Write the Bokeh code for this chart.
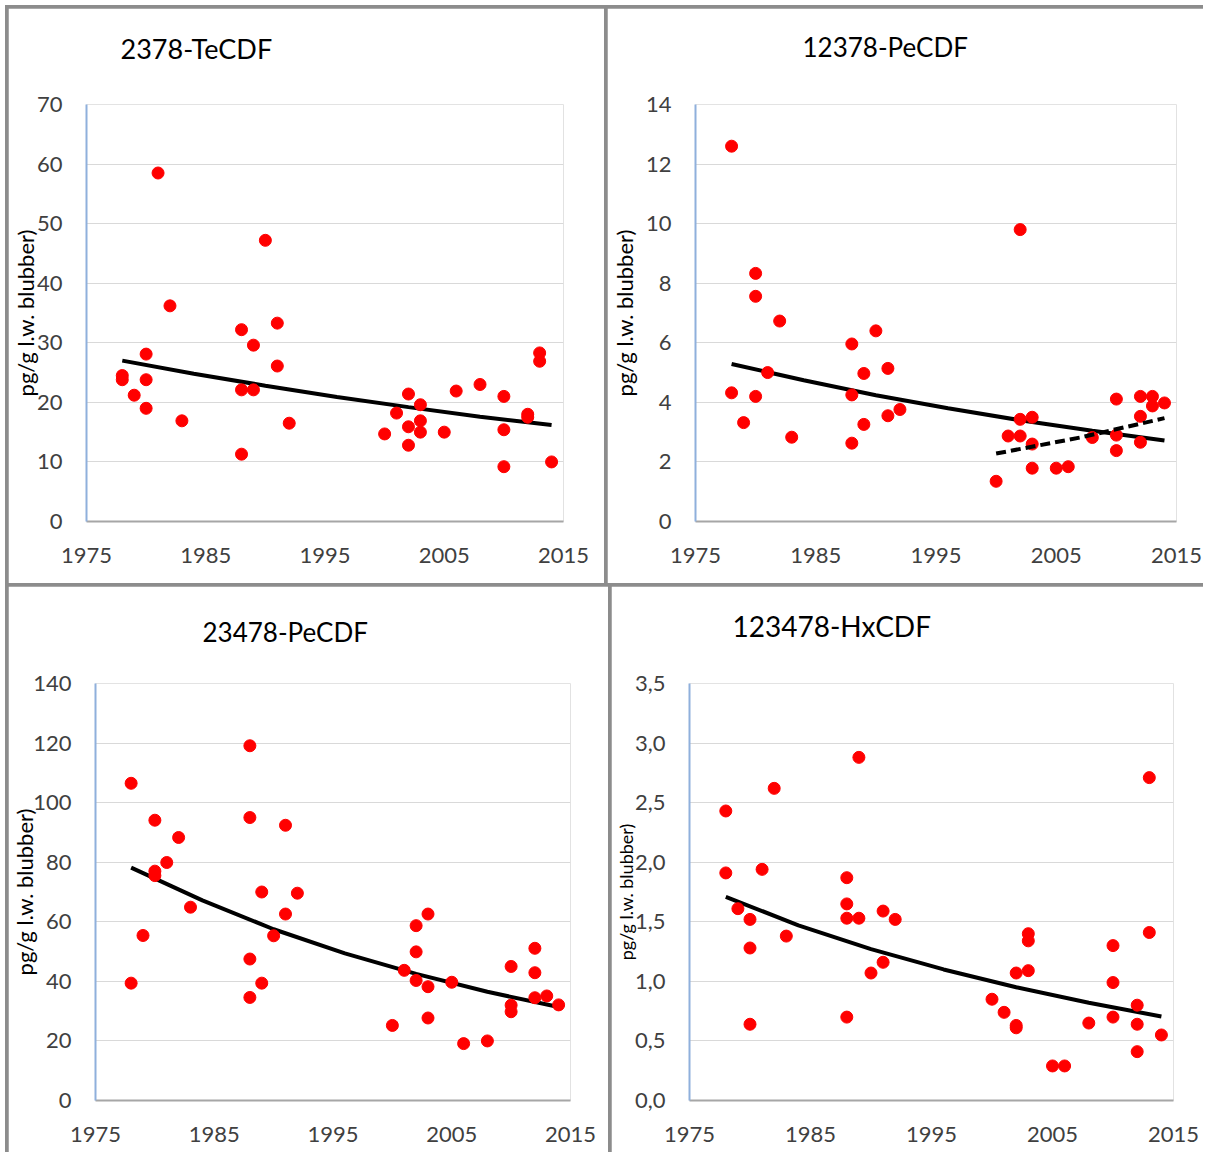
from bokeh.plotting import figure
from bokeh.models import Range1d, FixedTicker, CustomJSTickFormatter, Title
from bokeh.layouts import column, row
from bokeh.embed import file_html
from bokeh.resources import INLINE

# ---------------- data ----------------
x_ticks = [1975, 1985, 1995, 2005, 2015]

titles = ["2378-TeCDF", "12378-PeCDF", "23478-PeCDF", "123478-HxCDF"]
y_label = "pg/g l.w. blubber)"

years1 = [1978, 1978, 1979, 1980, 1980, 1980, 1981, 1982, 1983, 1988, 1988, 1989, 1988, 1989,
          1990, 1991, 1991, 1992, 2000, 2001, 2002, 2002, 2002, 2003, 2003, 2003, 2005, 2006,
          2008, 2010, 2010, 2010, 2012, 2012, 2013, 2013, 2014]
vals1 = [24.5, 23.8, 21.2, 28.1, 23.8, 19.0, 58.5, 36.2, 16.9, 32.2, 22.1, 22.1, 11.3, 29.6,
         47.2, 33.3, 26.1, 16.5, 14.7, 18.2, 21.4, 15.9, 12.8, 19.6, 16.9, 15.0, 15.0, 21.9,
         23.0, 21.0, 15.4, 9.2, 18.0, 17.5, 28.3, 26.9, 10.0]
y_ticks1 = [0, 10, 20, 30, 40, 50, 60, 70]

years2 = [1978, 1978, 1979, 1980, 1980, 1980, 1981, 1982, 1983, 1988, 1988, 1988, 1989, 1989,
          1990, 1991, 1991, 1992, 2000, 2001, 2002, 2002, 2002, 2003, 2003, 2003, 2005, 2006,
          2008, 2010, 2010, 2010, 2012, 2012, 2012, 2013, 2013, 2014]
vals2 = [12.6, 4.32, 3.32, 8.33, 7.56, 4.2, 5.0, 6.73, 2.83, 5.96, 4.25, 2.63, 4.97, 3.26,
         6.4, 5.14, 3.55, 3.76, 1.35, 2.87, 9.8, 3.43, 2.87, 3.5, 2.6, 1.79, 1.79, 1.84,
         2.82, 4.11, 2.9, 2.38, 4.2, 3.53, 2.66, 4.2, 3.88, 3.98]
y_ticks2 = [0, 2, 4, 6, 8, 10, 12, 14]

years3 = [1978, 1978, 1979, 1980, 1980, 1980, 1981, 1982, 1983, 1988, 1988, 1988, 1988, 1989,
          1989, 1990, 1991, 1991, 1992, 2000, 2001, 2002, 2002, 2002, 2003, 2003, 2003, 2005,
          2006, 2008, 2010, 2010, 2010, 2012, 2012, 2012, 2013, 2014]
vals3 = [106.5, 39.4, 55.4, 94.1, 77.0, 75.5, 79.9, 88.3, 64.9, 119.1, 95.0, 47.5, 34.6, 70.0,
         39.4, 55.3, 92.4, 62.6, 69.6, 25.2, 43.7, 58.7, 49.9, 40.3, 62.6, 38.2, 27.7, 39.7,
         19.1, 20.0, 45.0, 32.0, 29.8, 51.1, 42.9, 34.5, 35.1, 32.1]
y_ticks3 = [0, 20, 40, 60, 80, 100, 120, 140]

years4 = [1978, 1978, 1979, 1980, 1980, 1980, 1981, 1982, 1983, 1988, 1988, 1988, 1988, 1989,
          1989, 1990, 1991, 1991, 1992, 2000, 2001, 2002, 2002, 2002, 2003, 2003, 2003, 2005,
          2006, 2008, 2010, 2010, 2010, 2012, 2012, 2012, 2013, 2013, 2014]
vals4 = [2.43, 1.91, 1.61, 1.52, 1.28, 0.64, 1.94, 2.62, 1.38, 1.87, 1.65, 1.53, 0.70, 2.88,
         1.53, 1.07, 1.59, 1.16, 1.52, 0.85, 0.74, 1.07, 0.63, 0.61, 1.40, 1.34, 1.09, 0.29,
         0.29, 0.65, 1.30, 0.99, 0.70, 0.80, 0.64, 0.41, 2.71, 1.41, 0.55]
y_ticks4 = [0.0, 0.5, 1.0, 1.5, 2.0, 2.5, 3.0, 3.5]

# trend curves
trend_years = [1978, 1984, 1990, 1996, 2002, 2008, 2014]
trend1 = [27.0, 24.8, 22.8, 20.9, 19.2, 17.6, 16.2]
trend2 = [5.29, 4.74, 4.24, 3.80, 3.40, 3.05, 2.72]
trend3 = [78.2, 67.2, 57.5, 49.4, 42.5, 36.5, 31.4]
trend4 = [1.71, 1.47, 1.27, 1.10, 0.95, 0.82, 0.705]
dash_years2 = [2000, 2007, 2014]
dash_trend2 = [2.28, 2.82, 3.47]

FONT = "Lato"


def make_panel(title, xs, ys, tys, yticks, w, h, mbl, mbr, mbt, mbb,
               title_off, title_gap, title_size, lab_standoff, lab_size, x_standoff,
               comma=False):
    p = figure(width=w, height=h, x_range=Range1d(1975, 2015),
               y_range=Range1d(yticks[0], yticks[-1]),
               output_backend="svg", toolbar_location=None,
               min_border_left=mbl, min_border_right=mbr,
               min_border_top=mbt, min_border_bottom=mbb)
    p.outline_line_color = None
    p.background_fill_color = "white"
    p.border_fill_color = "white"
    p.xgrid.visible = False
    p.ygrid.grid_line_color = "#d9d9d9"
    p.ygrid.grid_line_width = 1

    # invisible spacer between the title and the frame
    p.add_layout(Title(text=" ", text_font_size="1px", standoff=title_gap), "above")
    p.title.text = title
    p.title.text_font = FONT
    p.title.text_font_size = title_size
    p.title.text_font_style = "normal"
    p.title.text_color = "black"
    p.title.align = "left"
    p.title.offset = title_off
    p.title.standoff = 10

    p.xaxis.ticker = FixedTicker(ticks=x_ticks)
    p.yaxis.ticker = FixedTicker(ticks=yticks)
    if comma:
        p.yaxis.formatter = CustomJSTickFormatter(
            code="return tick.toFixed(1).replace('.', ',');")
    for ax in (p.xaxis[0], p.yaxis[0]):
        ax.major_tick_out = 0
        ax.major_tick_in = 0
        ax.minor_tick_out = 0
        ax.minor_tick_in = 0
        ax.major_label_text_font = FONT
        ax.major_label_text_font_size = "22px"
        ax.major_label_text_color = "#404040"
    p.xaxis.axis_line_color = "#a6a6a6"
    p.xaxis.axis_line_width = 2
    p.yaxis.axis_line_color = "#8fb0dc"
    p.yaxis.axis_line_width = 2
    p.xaxis.major_label_standoff = x_standoff
    p.yaxis.major_label_standoff = 24

    p.yaxis.axis_label = y_label
    p.yaxis.axis_label_text_font = FONT
    p.yaxis.axis_label_text_font_size = lab_size
    p.yaxis.axis_label_text_font_style = "normal"
    p.yaxis.axis_label_text_color = "black"
    p.yaxis.axis_label_standoff = lab_standoff

    p.line(trend_years, tys, line_color="black", line_width=4)
    p.scatter(xs, ys, size=12, fill_color="#ff0000", line_color="#ff0000")
    return p


p1 = make_panel(titles[0], years1, vals1, trend1, y_ticks1, 596, 575, 77, 41, 96, 62,
                34, 32, "27px", -5, "22px", 26)
p2 = make_panel(titles[1], years2, vals2, trend2, y_ticks2, 596, 575, 83, 27, 96, 62,
                107, 34, "26px", 5, "22px", 26)
p2.line(dash_years2, dash_trend2, line_color="black", line_width=4, line_dash="10 5")
p3 = make_panel(titles[2], years3, vals3, trend3, y_ticks3, 600, 566, 82, 38, 97, 52,
                107, 28, "26px", -8, "22px", 26)
p4 = make_panel(titles[3], years4, vals4, trend4, y_ticks4, 592, 566, 78, 30, 97, 52,
                43, 33, "28px", -5, "18px", 26, comma=True)

top = row(p1, p2, spacing=3)
bottom = row(p3, p4, spacing=3)
lay = column(top, bottom, spacing=3)
lay.styles = {"background-color": "#8c8c8c",
              "border-top": "5px solid white", "border-left": "5px solid white",
              "padding-top": "3px", "padding-left": "3px"}

open("out.html", "w").write(file_html(lay, INLINE))
